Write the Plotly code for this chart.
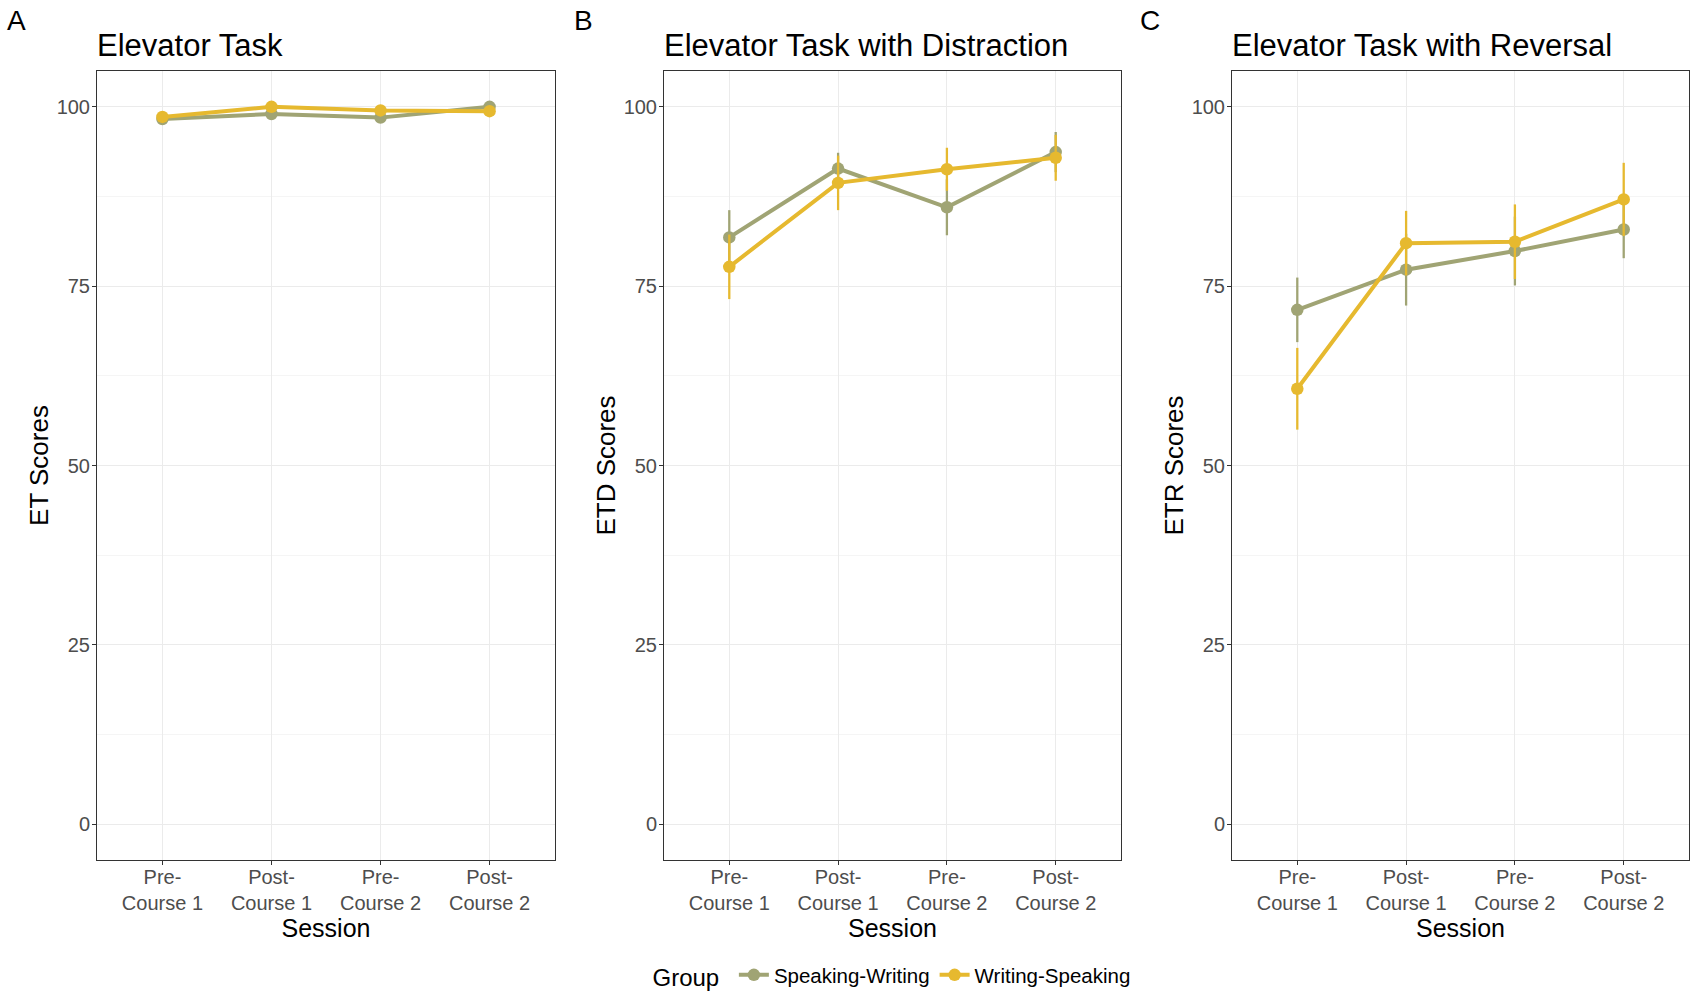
import plotly.graph_objects as go

# ---------------- data ----------------
sessions = ["Pre-<br>Course 1", "Post-<br>Course 1", "Pre-<br>Course 2", "Post-<br>Course 2"]
groups = ["Speaking-Writing", "Writing-Speaking"]

et_sw = [98.3, 99.0, 98.5, 100.0]
et_sw_err = [0.5, 0.5, 0.5, 0.4]
et_ws = [98.6, 100.0, 99.5, 99.4]
et_ws_err = [0.5, 0.3, 0.4, 0.5]

etd_sw = [81.8, 91.4, 86.0, 93.7]
etd_sw_err = [3.8, 2.2, 3.9, 2.8]
etd_ws = [77.7, 89.4, 91.3, 92.9]
etd_ws_err = [4.5, 3.8, 3.0, 3.2]

etr_sw = [71.7, 77.3, 79.9, 82.9]
etr_sw_err = [4.5, 5.0, 4.8, 4.0]
etr_ws = [60.7, 81.0, 81.2, 87.1]
etr_ws_err = [5.7, 4.5, 5.2, 5.1]

panel_letters = ["A", "B", "C"]
panel_titles = ["Elevator Task", "Elevator Task with Distraction", "Elevator Task with Reversal"]
y_titles = ["ET Scores", "ETD Scores", "ETR Scores"]
y_ticks = [0, 25, 50, 75, 100]

panels = [
    (et_sw, et_sw_err, et_ws, et_ws_err),
    (etd_sw, etd_sw_err, etd_ws, etd_ws_err),
    (etr_sw, etr_sw_err, etr_ws, etr_ws_err),
]

colors = {"Speaking-Writing": "#A0A474", "Writing-Speaking": "#E6B92F"}

# ---------------- layout geometry (pixels) ----------------
W, H = 1690, 992
ML, MR, MT, MB = 97, 1, 71, 132
plot_w = W - ML - MR
plot_h = H - MT - MB
panel_px = [(97, 555), (664, 1121), (1232, 1689)]
domains = [[(a - ML) / plot_w, (b - ML) / plot_w] for a, b in panel_px]

FONT = "Liberation Sans, Arial, sans-serif"

fig = go.Figure()
for i, (sw, swe, ws, wse) in enumerate(panels):
    ax = "" if i == 0 else str(i + 1)
    for g, vals, errs in [(groups[0], sw, swe), (groups[1], ws, wse)]:
        fig.add_trace(go.Scatter(
            x=sessions, y=vals,
            mode="lines+markers",
            name=g,
            legendgroup=g,
            showlegend=(i == 0),
            line=dict(color=colors[g], width=4),
            marker=dict(color=colors[g], size=12.5),
            error_y=dict(type="data", array=errs, arrayminus=errs, visible=True,
                         color=colors[g], thickness=2.3, width=0),
            xaxis="x" + ax, yaxis="y" + ax,
        ))
    axis_common = dict(
        showline=True, mirror=True, linecolor="#333333", linewidth=1,
        ticks="outside", ticklen=4, tickcolor="#333333", tickwidth=1,
        gridcolor="#EBEBEB", gridwidth=1.2, zeroline=False, automargin=False,
        tickfont=dict(family=FONT, size=20, color="#4D4D4D"),
    )
    fig.update_layout(**{
        "xaxis" + ax: dict(
            axis_common, domain=domains[i], anchor="y" + ax,
            type="category", categoryorder="array", categoryarray=sessions,
            range=[-0.6, 3.6], ticklabelstandoff=-5,
            title=dict(text="Session", font=dict(family=FONT, size=25, color="black"), standoff=0),
        ),
        "yaxis" + ax: dict(
            axis_common, domain=[0, 1], anchor="x" + ax,
            range=[-5, 105], tickvals=y_ticks, ticklabelstandoff=-2,
            minor=dict(tickvals=[12.5, 37.5, 62.5, 87.5], showgrid=True, gridcolor="#F5F5F5", gridwidth=1),
            title=dict(text=y_titles[i], font=dict(family=FONT, size=26, color="black"), standoff=0),
        ),
    })

annotations = []
letter_x = [16, 583, 1150]
for i in range(3):
    x0 = panel_px[i][0]
    annotations.append(dict(
        text=panel_letters[i], xref="paper", yref="paper",
        x=(letter_x[i] - ML) / plot_w, y=(H - MB - 20) / plot_h,
        xanchor="center", yanchor="middle", showarrow=False,
        font=dict(family=FONT, size=28, color="black"),
    ))
    annotations.append(dict(
        text=panel_titles[i], xref="paper", yref="paper",
        x=(x0 - ML - 2) / plot_w, y=(H - MB - 45) / plot_h,
        xanchor="left", yanchor="middle", showarrow=False,
        font=dict(family=FONT, size=31, color="black"),
    ))

fig.update_layout(
    width=W, height=H,
    margin=dict(l=ML, r=MR, t=MT, b=MB, pad=0, autoexpand=False),
    paper_bgcolor="white", plot_bgcolor="white",
    annotations=annotations,
    legend=dict(
        orientation="h", x=0.5, xanchor="center",
        yref="paper", y=(H - MB - 976) / plot_h, yanchor="middle",
        title=dict(text="Group ", font=dict(family=FONT, size=24, color="black")),
        font=dict(family=FONT, size=20.5, color="black"),
        itemwidth=30,
    ),
    font=dict(family=FONT),
)

fig.write_html("out.html", config={"displayModeBar": False},
               post_script="document.body.style.margin='0';")
